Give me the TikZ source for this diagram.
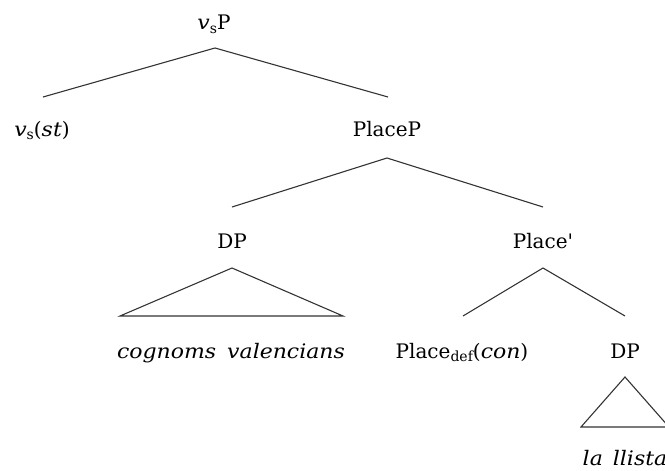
\documentclass[tikz,border=0pt]{standalone}
\usepackage{fontspec}
\setmainfont{DejaVu Serif}[ItalicFeatures={FakeStretch=1.1}]
\newcommand\mysub[1]{\raisebox{-0.18em}{\fontsize{14}{14}\selectfont #1}}
\begin{document}
\begin{tikzpicture}[x=1pt,y=-1pt,
  lbl/.style={anchor=base, inner sep=0pt, font=\fontsize{20}{24}\selectfont},
  edge/.style={draw=black!80, line width=1.1pt, line join=miter}]
\useasboundingbox (0,0) rectangle (665,471);
% labels
\node[lbl] (vsP) at (214,30) {\textit{v}\mysub{s}P};
\node[lbl] (vs) at (42,136) {\textit{v}\mysub{s}(\textit{st})};
\node[lbl] (PlaceP) at (387,136) {PlaceP};
\node[lbl] (DP1) at (232,248) {DP};
\node[lbl] (Placebar) at (543,248) {Place\textquotesingle};
\node[lbl] (cv) at (231,358) {\textit{cognoms\hspace{0.55em}valencians}};
\node[lbl] (Pdef) at (462,358) {Place\mysub{def}(\textit{con})};
\node[lbl] (DP2) at (625,358) {DP};
\node[lbl] (ll) at (625,465) {\textit{la\hspace{0.5em}llista}};
% connector points
\coordinate (vsPa) at (215,48);
\coordinate (vsL) at (43,97);
\coordinate (vsR) at (388,97);
\coordinate (PPa) at (387,158);
\coordinate (PPL) at (232,207);
\coordinate (PPR) at (543,207);
\coordinate (DPa) at (232,268);
\coordinate (DPL) at (120,316);
\coordinate (DPR) at (343,316);
\coordinate (Pba) at (543,268);
\coordinate (PbL) at (463,316);
\coordinate (PbR) at (625,316);
\coordinate (D2a) at (625,377);
\coordinate (D2L) at (581,427);
\coordinate (D2R) at (669,427);
% edges
\draw[edge] (vsL) -- (vsPa) -- (vsR);
\draw[edge] (PPL) -- (PPa) -- (PPR);
\draw[edge] (DPa) -- (DPL) -- (DPR) -- cycle;
\draw[edge] (PbL) -- (Pba) -- (PbR);
\draw[edge] (D2a) -- (D2L) -- (D2R) -- cycle;
\end{tikzpicture}
\end{document}
